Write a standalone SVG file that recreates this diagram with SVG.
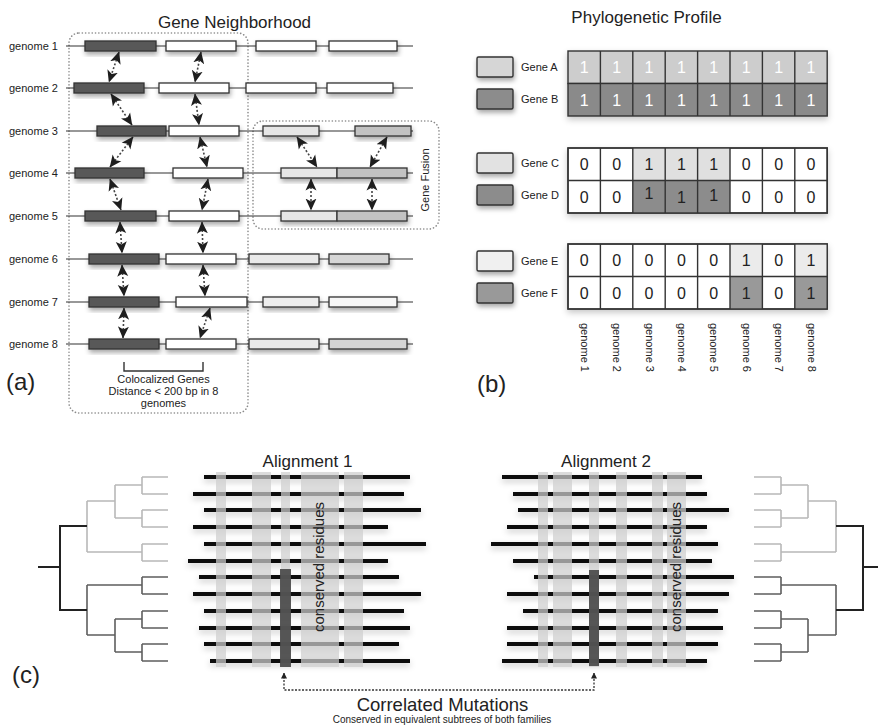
<svg xmlns="http://www.w3.org/2000/svg" width="878" height="726" viewBox="0 0 878 726">
<style>
  text { font-family: "Liberation Sans", Arial, sans-serif; fill: #222; }
  .lbl { font-size: 11px; }
  .title { font-size: 17px; }
  .panel { font-size: 24px; }
  .chrom { stroke: #333; stroke-width: 1.2; fill: none; }
  .gene { stroke: #333; stroke-width: 1.3; }
  .dk { fill: #595959; }
  .wh { fill: #ffffff; }
  .lt { fill: #e6e6e6; }
  .gy { fill: #c2c2c2; }
  .frame { fill: none; stroke: #8a8a8a; stroke-width: 1.6; stroke-dasharray: 0.1 3.2; stroke-linecap: round; }
  .link { fill: none; stroke: #444; stroke-width: 1.6; stroke-dasharray: 2 2; marker-start: url(#ah); marker-end: url(#ah); }
  .cell { stroke: #333; stroke-width: 1.4; }
  .dig { font-size: 16px; text-anchor: middle; }
  .wdig { fill: #ffffff; }
  .seq { stroke: #111; stroke-width: 4; }
  .band { fill: #cfcfcf; opacity: 0.72; }
  .hot { fill: #4a4a4a; opacity: 0.92; }
  .tl { fill: none; stroke: #b8b8b8; stroke-width: 1.6; }
  .tm { fill: none; stroke: #5e5e5e; stroke-width: 1.6; }
  .tr { fill: none; stroke: #222; stroke-width: 2; }
</style>
<defs>
  <filter id="sh" x="-20%" y="-40%" width="140%" height="200%">
    <feDropShadow dx="1" dy="3" stdDeviation="2.5" flood-color="#000" flood-opacity="0.35"/>
  </filter>
  <filter id="shs" x="-10%" y="-10%" width="120%" height="130%">
    <feDropShadow dx="0" dy="3" stdDeviation="3" flood-color="#000" flood-opacity="0.22"/>
  </filter>
  <marker id="ah" viewBox="0 0 12 12" refX="11.5" refY="6" markerWidth="12" markerHeight="12" markerUnits="userSpaceOnUse" orient="auto-start-reverse">
    <path d="M0,0.5 L12,6 L0,11.5 L3,6 z" fill="#1e1e1e"/>
  </marker>
  <marker id="as" viewBox="0 0 6 6" refX="5.5" refY="3" markerWidth="6" markerHeight="6" markerUnits="userSpaceOnUse" orient="auto-start-reverse">
    <path d="M0,0 L6,3 L0,6 z" fill="#222"/>
  </marker>
</defs>
<rect width="878" height="726" fill="#ffffff"/>

<!-- ===== (a) gene neighborhood ===== -->
<text class="title" x="234.5" y="28" text-anchor="middle">Gene Neighborhood</text>
<rect id="colocalized-frame" class="frame" x="69" y="33" width="179" height="380" rx="10"/>
<rect id="fusion-frame" class="frame" x="253" y="121" width="186" height="108" rx="10"/>
<text class="lbl" transform="translate(429,180) rotate(-90)" text-anchor="middle">Gene Fusion</text>

<g id="genome1">
  <text class="lbl" x="9" y="50">genome 1</text>
  <line class="chrom" x1="66" y1="46" x2="413" y2="46"/>
  <g filter="url(#sh)">
    <rect class="gene dk" x="85" y="41" width="71" height="10"/>
    <rect class="gene wh" x="166" y="41" width="70" height="10"/>
    <rect class="gene wh" x="256" y="41" width="60" height="10"/>
    <rect class="gene wh" x="329" y="41" width="68" height="10"/>
  </g>
</g>
<g id="genome2">
  <text class="lbl" x="9" y="92">genome 2</text>
  <line class="chrom" x1="66" y1="88" x2="413" y2="88"/>
  <g filter="url(#sh)">
    <rect class="gene dk" x="74" y="83" width="70" height="10"/>
    <rect class="gene wh" x="159" y="83" width="70" height="10"/>
    <rect class="gene wh" x="246" y="83" width="70" height="10"/>
    <rect class="gene wh" x="327" y="83" width="66" height="10"/>
  </g>
</g>
<g id="genome3">
  <text class="lbl" x="9" y="135">genome 3</text>
  <line class="chrom" x1="66" y1="131" x2="413" y2="131"/>
  <g filter="url(#sh)">
    <rect class="gene dk" x="97" y="126" width="69" height="10"/>
    <rect class="gene wh" x="169" y="126" width="70" height="10"/>
    <rect class="gene lt" x="263" y="126" width="56" height="10"/>
    <rect class="gene gy" x="355" y="126" width="56" height="10"/>
  </g>
</g>
<g id="genome4">
  <text class="lbl" x="9" y="177">genome 4</text>
  <line class="chrom" x1="66" y1="173" x2="413" y2="173"/>
  <g filter="url(#sh)">
    <rect class="gene dk" x="75" y="168" width="69" height="10"/>
    <rect class="gene wh" x="173" y="168" width="70" height="10"/>
    <rect class="gene lt" x="281" y="168" width="56" height="10"/>
    <rect class="gene gy" x="337" y="168" width="70" height="10"/>
  </g>
</g>
<g id="genome5">
  <text class="lbl" x="9" y="220">genome 5</text>
  <line class="chrom" x1="66" y1="216" x2="413" y2="216"/>
  <g filter="url(#sh)">
    <rect class="gene dk" x="85" y="211" width="71" height="10"/>
    <rect class="gene wh" x="169" y="211" width="70" height="10"/>
    <rect class="gene lt" x="281" y="211" width="56" height="10"/>
    <rect class="gene gy" x="337" y="211" width="70" height="10"/>
  </g>
</g>
<g id="genome6">
  <text class="lbl" x="9" y="263">genome 6</text>
  <line class="chrom" x1="66" y1="259" x2="413" y2="259"/>
  <g filter="url(#sh)">
    <rect class="gene dk" x="89" y="254" width="70" height="10"/>
    <rect class="gene wh" x="166" y="254" width="70" height="10"/>
    <rect class="gene" fill="#e9e9e9" x="249" y="254" width="70" height="10"/>
    <rect class="gene" fill="#d6d6d6" x="329" y="254" width="60" height="10"/>
  </g>
</g>
<g id="genome7">
  <text class="lbl" x="9" y="306">genome 7</text>
  <line class="chrom" x1="66" y1="302" x2="413" y2="302"/>
  <g filter="url(#sh)">
    <rect class="gene dk" x="89" y="297" width="70" height="10"/>
    <rect class="gene wh" x="176" y="297" width="71" height="10"/>
    <rect class="gene" fill="#ededed" x="263" y="297" width="56" height="10"/>
    <rect class="gene" fill="#f6f6f6" x="329" y="297" width="68" height="10"/>
  </g>
</g>
<g id="genome8">
  <text class="lbl" x="9" y="348">genome 8</text>
  <line class="chrom" x1="66" y1="344" x2="413" y2="344"/>
  <g filter="url(#sh)">
    <rect class="gene dk" x="89" y="339" width="70" height="10"/>
    <rect class="gene wh" x="166" y="339" width="70" height="10"/>
    <rect class="gene" fill="#e9e9e9" x="249" y="339" width="70" height="10"/>
    <rect class="gene" fill="#d4d4d4" x="329" y="339" width="78" height="10"/>
  </g>
</g>

<g id="orthology-links">
  <line class="link" x1="119" y1="52" x2="109" y2="82"/>
  <line class="link" x1="201" y1="52" x2="195" y2="82"/>
  <line class="link" x1="111" y1="94" x2="132" y2="125"/>
  <line class="link" x1="195" y1="94" x2="199" y2="125"/>
  <line class="link" x1="133" y1="137" x2="110" y2="167"/>
  <line class="link" x1="200" y1="137" x2="207" y2="167"/>
  <line class="link" x1="110" y1="179" x2="121" y2="210"/>
  <line class="link" x1="208" y1="179" x2="202" y2="210"/>
  <line class="link" x1="120" y1="222" x2="122" y2="253"/>
  <line class="link" x1="202" y1="222" x2="203" y2="253"/>
  <line class="link" x1="122" y1="265" x2="124" y2="296"/>
  <line class="link" x1="203" y1="265" x2="205" y2="296"/>
  <line class="link" x1="124" y1="308" x2="123" y2="338"/>
  <line class="link" x1="210" y1="308" x2="200" y2="338"/>
  <line class="link" x1="297" y1="137" x2="317" y2="167"/>
  <line class="link" x1="387" y1="137" x2="370" y2="167"/>
  <line class="link" x1="311" y1="179" x2="311" y2="210"/>
  <line class="link" x1="372" y1="179" x2="372" y2="210"/>
</g>

<g id="colocalized-note">
  <path d="M124 362 V371 H203 V362" fill="none" stroke="#333" stroke-width="1.4"/>
  <text class="lbl" x="163.5" y="383" text-anchor="middle">Colocalized Genes</text>
  <text class="lbl" x="163.5" y="395" text-anchor="middle">Distance &lt; 200 bp in 8</text>
  <text class="lbl" x="163.5" y="407" text-anchor="middle">genomes</text>
</g>
<text class="panel" x="6" y="390">(a)</text>

<!-- ===== (b) phylogenetic profile ===== -->
<text class="title" x="646.5" y="23" text-anchor="middle">Phylogenetic Profile</text>

<g id="legend" filter="url(#sh)">
  <rect class="cell" fill="#d6d6d6" x="477" y="57" width="36" height="20" rx="1.5"/>
  <rect class="cell" fill="#8c8c8c" x="477" y="89" width="36" height="20" rx="1.5"/>
  <rect class="cell" fill="#e2e2e2" x="477" y="153" width="36" height="20" rx="1.5"/>
  <rect class="cell" fill="#8c8c8c" x="477" y="185" width="36" height="20" rx="1.5"/>
  <rect class="cell" fill="#f0f0f0" x="477" y="251" width="36" height="20" rx="1.5"/>
  <rect class="cell" fill="#999999" x="477" y="283" width="36" height="20" rx="1.5"/>
</g>
<g id="legend-labels">
  <text class="lbl" x="521" y="71">Gene A</text>
  <text class="lbl" x="521" y="103">Gene B</text>
  <text class="lbl" x="521" y="167">Gene C</text>
  <text class="lbl" x="521" y="199">Gene D</text>
  <text class="lbl" x="521" y="265">Gene E</text>
  <text class="lbl" x="521" y="297">Gene F</text>
</g>

<g id="profile-AB">
  <g filter="url(#shs)">
    <rect class="cell" fill="#cdcdcd" x="568" y="51" width="259.2" height="32.5"/>
    <rect class="cell" fill="#8a8a8a" x="568" y="83.5" width="259.2" height="32.5"/>
  </g>
  <path d="M600.4 51 V116 M632.8 51 V116 M665.2 51 V116 M697.6 51 V116 M730 51 V116 M762.4 51 V116 M794.8 51 V116" stroke="#333" stroke-width="1.4"/>
  <g class="dig">
    <text class="dig wdig" x="584.2" y="73">1</text><text class="dig wdig" x="616.6" y="73">1</text>
    <text class="dig wdig" x="649" y="73">1</text><text class="dig wdig" x="681.4" y="73">1</text>
    <text class="dig wdig" x="713.8" y="73">1</text><text class="dig wdig" x="746.2" y="73">1</text>
    <text class="dig wdig" x="778.6" y="73">1</text><text class="dig wdig" x="811" y="73">1</text>
    <text class="dig wdig" x="584.2" y="105.5">1</text><text class="dig wdig" x="616.6" y="105.5">1</text>
    <text class="dig wdig" x="649" y="105.5">1</text><text class="dig wdig" x="681.4" y="105.5">1</text>
    <text class="dig wdig" x="713.8" y="105.5">1</text><text class="dig wdig" x="746.2" y="105.5">1</text>
    <text class="dig wdig" x="778.6" y="105.5">1</text><text class="dig wdig" x="811" y="105.5">1</text>
  </g>
</g>

<g id="profile-CD">
  <g filter="url(#shs)">
    <rect class="cell" fill="#ffffff" x="568" y="148" width="259.2" height="65"/>
  </g>
  <rect fill="#e0e0e0" x="632.8" y="148" width="97.2" height="32.5"/>
  <rect fill="#8c8c8c" x="632.8" y="180.5" width="97.2" height="32.5"/>
  <rect class="cell" fill="none" x="568" y="148" width="259.2" height="65"/>
  <path d="M568 180.5 H827.2 M600.4 148 V213 M632.8 148 V213 M665.2 148 V213 M697.6 148 V213 M730 148 V213 M762.4 148 V213 M794.8 148 V213" stroke="#333" stroke-width="1.4"/>
  <text class="dig" x="584.2" y="170">0</text><text class="dig" x="616.6" y="170">0</text>
  <text class="dig" x="649" y="170">1</text><text class="dig" x="681.4" y="170">1</text>
  <text class="dig" x="713.8" y="170">1</text><text class="dig" x="746.2" y="170">0</text>
  <text class="dig" x="778.6" y="170">0</text><text class="dig" x="811" y="170">0</text>
  <text class="dig" x="584.2" y="202.5">0</text><text class="dig" x="616.6" y="202.5">0</text>
  <text class="dig" x="649" y="199">1</text><text class="dig" x="681.4" y="202.5">1</text>
  <text class="dig" x="713.8" y="201">1</text><text class="dig" x="746.2" y="202.5">0</text>
  <text class="dig" x="778.6" y="202.5">0</text><text class="dig" x="811" y="202.5">0</text>
</g>

<g id="profile-EF">
  <g filter="url(#shs)">
    <rect class="cell" fill="#ffffff" x="568" y="244" width="259.2" height="65"/>
  </g>
  <rect fill="#ebebeb" x="730" y="244" width="32.4" height="32.5"/>
  <rect fill="#ebebeb" x="794.8" y="244" width="32.4" height="32.5"/>
  <rect fill="#999999" x="730" y="276.5" width="32.4" height="32.5"/>
  <rect fill="#999999" x="794.8" y="276.5" width="32.4" height="32.5"/>
  <rect class="cell" fill="none" x="568" y="244" width="259.2" height="65"/>
  <path d="M568 276.5 H827.2 M600.4 244 V309 M632.8 244 V309 M665.2 244 V309 M697.6 244 V309 M730 244 V309 M762.4 244 V309 M794.8 244 V309" stroke="#333" stroke-width="1.4"/>
  <text class="dig" x="584.2" y="266">0</text><text class="dig" x="616.6" y="266">0</text>
  <text class="dig" x="649" y="266">0</text><text class="dig" x="681.4" y="266">0</text>
  <text class="dig" x="713.8" y="266">0</text><text class="dig" x="746.2" y="266">1</text>
  <text class="dig" x="778.6" y="266">0</text><text class="dig" x="811" y="266">1</text>
  <text class="dig" x="584.2" y="298.5">0</text><text class="dig" x="616.6" y="298.5">0</text>
  <text class="dig" x="649" y="298.5">0</text><text class="dig" x="681.4" y="298.5">0</text>
  <text class="dig" x="713.8" y="298.5">0</text><text class="dig" x="746.2" y="298.5">1</text>
  <text class="dig" x="778.6" y="298.5">0</text><text class="dig" x="811" y="298.5">1</text>
</g>

<g id="genome-axis">
  <text class="lbl" transform="translate(580.7,323) rotate(90)">genome 1</text>
  <text class="lbl" transform="translate(613.1,323) rotate(90)">genome 2</text>
  <text class="lbl" transform="translate(645.5,323) rotate(90)">genome 3</text>
  <text class="lbl" transform="translate(677.9,323) rotate(90)">genome 4</text>
  <text class="lbl" transform="translate(710.3,323) rotate(90)">genome 5</text>
  <text class="lbl" transform="translate(742.7,323) rotate(90)">genome 6</text>
  <text class="lbl" transform="translate(775.1,323) rotate(90)">genome 7</text>
  <text class="lbl" transform="translate(807.5,323) rotate(90)">genome 8</text>
</g>
<text class="panel" x="477" y="392">(b)</text>

<!-- ===== (c) correlated mutations ===== -->
<g id="tree-1">
  <path class="tl" d="M142 477 H168 M142 494 H168 M142 510 H168 M142 527 H168 M142 544 H168 M142 561 H168
    M142 477 V494 M142 510 V527 M142 544 V561 M115 485 H142 M115 518 H142 M115 485 V518
    M87 501 H115 M87 552 H142 M87 501 V552"/>
  <path class="tm" d="M142 577 H168 M142 594 H168 M142 611 H168 M142 628 H168 M142 644 H168 M142 661 H168
    M142 577 V594 M142 611 V628 M142 644 V661 M115 619 H142 M115 652 H142 M115 619 V652
    M87 585 H142 M87 635 H115 M87 585 V635"/>
  <path class="tr" d="M38 567 H60 M60 526 V611 M59 526 H87 M59 610 H87"/>
</g>

<g id="alignment-1">
  <text class="title" x="307.5" y="467" text-anchor="middle">Alignment 1</text>
  <g class="seq" filter="url(#shs)">
    <line x1="204" y1="477" x2="410" y2="477"/>
    <line x1="193" y1="494" x2="404" y2="494"/>
    <line x1="204" y1="510" x2="421" y2="510"/>
    <line x1="193" y1="527" x2="388" y2="527"/>
    <line x1="204" y1="544" x2="426" y2="544"/>
    <line x1="188" y1="561" x2="388" y2="561"/>
    <line x1="199" y1="577" x2="399" y2="577"/>
    <line x1="193" y1="594" x2="421" y2="594"/>
    <line x1="204" y1="611" x2="404" y2="611"/>
    <line x1="199" y1="628" x2="410" y2="628"/>
    <line x1="204" y1="644" x2="399" y2="644"/>
    <line x1="210" y1="661" x2="410" y2="661"/>
  </g>
  <rect class="band" x="216" y="472" width="10" height="195"/>
  <rect class="band" x="252" y="472" width="19" height="195"/>
  <rect class="band" x="281" y="472" width="9" height="195"/>
  <rect class="band" x="301" y="472" width="38" height="195"/>
  <rect class="band" x="344" y="472" width="19" height="195"/>
  <rect class="hot" x="280" y="569" width="11" height="98"/>
  <text transform="translate(323.5,567) rotate(-90)" text-anchor="middle" font-size="15">conserved residues</text>
</g>

<g id="alignment-2">
  <text class="title" x="606" y="467" text-anchor="middle">Alignment 2</text>
  <g class="seq" filter="url(#shs)">
    <line x1="502" y1="477" x2="702" y2="477"/>
    <line x1="513" y1="494" x2="707" y2="494"/>
    <line x1="518" y1="510" x2="729" y2="510"/>
    <line x1="507" y1="527" x2="707" y2="527"/>
    <line x1="491" y1="544" x2="718" y2="544"/>
    <line x1="513" y1="561" x2="712" y2="561"/>
    <line x1="534" y1="577" x2="734" y2="577"/>
    <line x1="507" y1="594" x2="729" y2="594"/>
    <line x1="523" y1="611" x2="718" y2="611"/>
    <line x1="507" y1="628" x2="723" y2="628"/>
    <line x1="507" y1="644" x2="718" y2="644"/>
    <line x1="502" y1="661" x2="707" y2="661"/>
  </g>
  <rect class="band" x="538" y="472" width="10" height="195"/>
  <rect class="band" x="553" y="472" width="19" height="195"/>
  <rect class="band" x="589" y="472" width="10" height="195"/>
  <rect class="band" x="616" y="472" width="11" height="195"/>
  <rect class="band" x="652" y="472" width="11" height="195"/>
  <rect class="band" x="667" y="472" width="19" height="195"/>
  <rect class="hot" x="589" y="570" width="10" height="96"/>
  <text transform="translate(681,567) rotate(-90)" text-anchor="middle" font-size="15">conserved residues</text>
</g>

<g id="tree-2">
  <path class="tl" d="M754 477 H781 M754 494 H781 M754 510 H781 M754 527 H781 M754 544 H781 M754 561 H781
    M781 477 V494 M781 510 V527 M781 544 V561 M781 485 H808 M781 518 H808 M808 485 V518
    M808 501 H836 M781 552 H836 M836 501 V552"/>
  <path class="tm" d="M754 577 H781 M754 594 H781 M754 611 H781 M754 628 H781 M754 644 H781 M754 661 H781
    M781 577 V594 M781 611 V628 M781 644 V661 M781 619 H808 M781 652 H808 M808 619 V652
    M781 585 H836 M808 635 H836 M836 585 V635"/>
  <path class="tr" d="M836 526 H864 M836 610 H864 M863 526 V611 M863 567 H878"/>
</g>

<g id="connectors">
  <path d="M284 673 V690 H594 V673" fill="none" stroke="#333" stroke-width="1.3" stroke-dasharray="2 1.5" marker-start="url(#as)" marker-end="url(#as)"/>
</g>
<g id="correlated-note">
  <text x="442.5" y="711" text-anchor="middle" font-size="18.5">Correlated Mutations</text>
  <text x="442" y="723" text-anchor="middle" font-size="10">Conserved in equivalent subtrees of both families</text>
</g>
<text class="panel" x="12" y="683">(c)</text>
</svg>
